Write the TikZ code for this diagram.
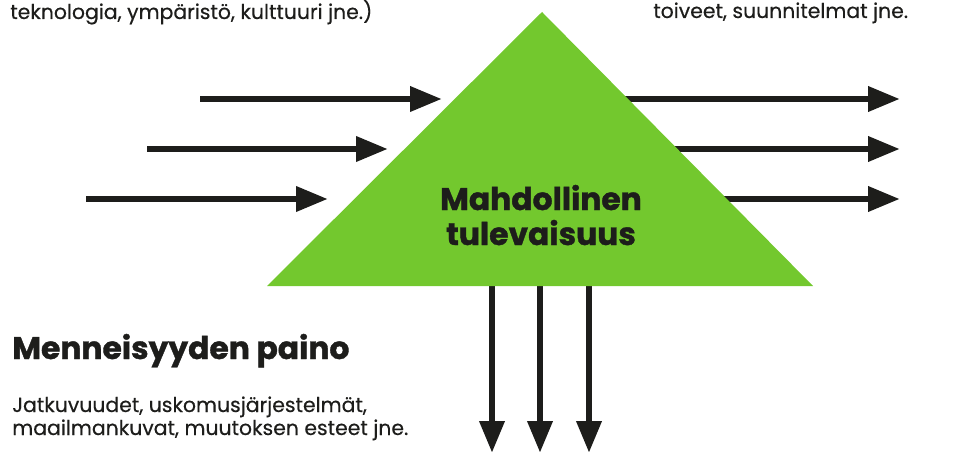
\documentclass[tikz,border=0pt]{standalone}
\usepackage{fontspec}
\setmainfont{Poppins}[FakeBold=0.4]
\newfontfamily\headfont{Poppins}[BoldFeatures={FakeBold=1.2}]
\usetikzlibrary{arrows.meta}
\definecolor{futgreen}{RGB}{115,200,46}
\definecolor{ink}{RGB}{29,29,27}

\begin{document}
\begin{tikzpicture}[x=0.75pt,y=-0.75pt,
  flow/.style={line width=5pt,draw=ink,-{Triangle[length=24pt,width=18pt]}},
  note/.style={anchor=base west,inner sep=0pt,text=ink,align=left,
    font=\fontsize{15.3}{17.25}\selectfont},
  head/.style={anchor=base west,inner sep=0pt,text=ink,
    font=\headfont\bfseries\fontsize{23.5}{26}\selectfont},
  core/.style={anchor=base,inner sep=0pt,text=ink,align=center,
    font=\headfont\bfseries\fontsize{23.5}{26.25}\selectfont}]
\useasboundingbox (0,0) rectangle (980,452);
%\draw[help lines] (0,0) grid[step=50] (980,452);

% arrows that leave the triangle
\foreach \i/\y in {1/99, 2/149, 3/199} {
  \coordinate (out\i) at (600,\y);
  \coordinate (goal\i) at (900,\y);
  \draw[flow] (out\i) -- (goal\i);
}
\foreach \i/\x in {1/492, 2/540, 3/589} {
  \coordinate (base\i) at (\x,280);
  \coordinate (drop\i) at (\x,453);
  \draw[flow] (base\i) -- (drop\i);
}

\coordinate (apex) at (542,12);
\coordinate (left) at (267,286);
\coordinate (right) at (813,286);
\fill[futgreen] (apex) -- (right) -- (left) -- cycle;

\foreach \i/\xa/\xb/\y in {1/200/442/99, 2/147/388/149, 3/86/328/199} {
  \coordinate (in\i) at (\xa,\y);
  \coordinate (drive\i) at (\xb,\y);
  \draw[flow] (in\i) -- (drive\i);
}

\node[core] (future) at (541,245) {Mahdollinen\\tulevaisuus};

\node[note] (drivers) at (10,19) {teknologia, ympäristö, kulttuuri jne.)};
\node[note] (hopes) at (653,18) {toiveet, suunnitelmat jne.};
\node[head] (past) at (12,359) {Menneisyyden paino};
\node[note] (weights) at (12,435) {Jatkuvuudet, uskomusjärjestelmät,\\maailmankuvat, muutoksen esteet jne.};
\end{tikzpicture}
\end{document}
